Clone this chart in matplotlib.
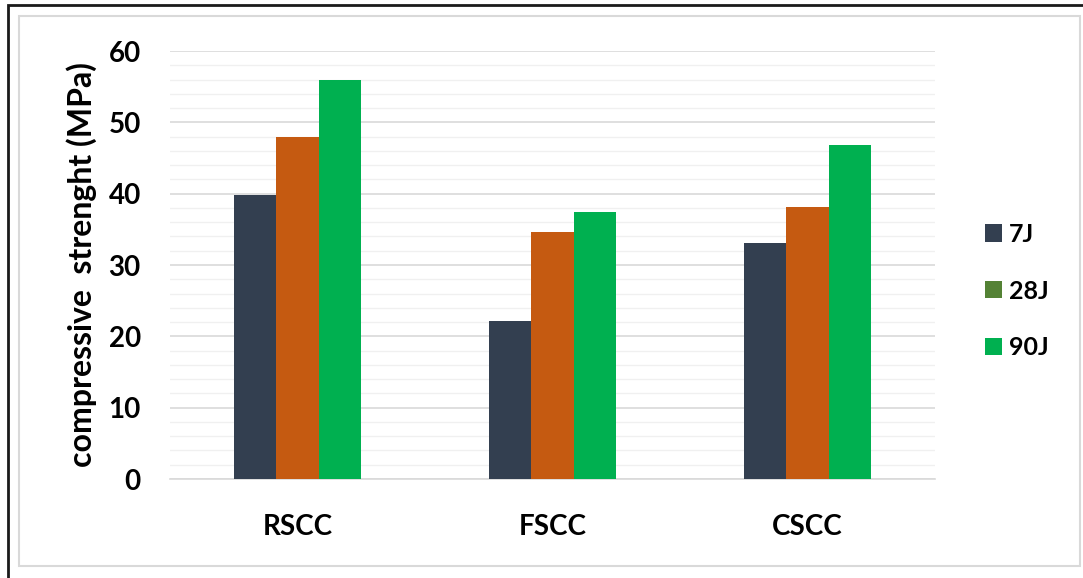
import numpy as np
import matplotlib.pyplot as plt
from matplotlib.patches import Rectangle, Patch

plt.rcParams["font.family"] = ["Lato", "DejaVu Sans"]
plt.rcParams["font.weight"] = "bold"

mixes = ["RSCC", "FSCC", "CSCC"]
ages = ["7J", "28J", "90J"]
strength_7j = [39.8, 22.2, 33.1]
strength_28j = [48.0, 34.6, 38.2]
strength_90j = [56.0, 37.5, 46.8]

bar_colors = ["#333F50", "#C55A11", "#00B050"]
legend_colors = ["#333F50", "#548235", "#00B050"]

fig = plt.figure(figsize=(10.83, 5.78), dpi=100)

# frame around the whole chart
fig.patches.append(Rectangle((8 / 1083, -0.05), 1.2, 1 - 5 / 578 + 0.05,
                             transform=fig.transFigure, fill=False,
                             edgecolor="#1a1a1a", linewidth=2.0))
fig.patches.append(Rectangle((19 / 1083, 1 - 566 / 578),
                             (1080 - 19) / 1083, (566 - 16) / 578,
                             transform=fig.transFigure, fill=False,
                             edgecolor="#D9D9D9", linewidth=1.5))

ax = fig.add_axes([170 / 1083, 1 - 479 / 578, 765 / 1083, 428 / 578])

x = np.arange(len(mixes))
width = 0.5 / 3
for i, vals in enumerate([strength_7j, strength_28j, strength_90j]):
    ax.bar(x + (i - 1) * width, vals, width, color=bar_colors[i], zorder=3)

ax.set_xlim(-0.5, 2.5)
ax.set_ylim(0, 60)
ax.set_yticks(np.arange(0, 61, 10))
ax.set_yticks(np.arange(0, 61, 2), minor=True)
ax.grid(axis="y", which="major", color="#D9D9D9", linewidth=1.2, zorder=0)
ax.grid(axis="y", which="minor", color="#F0F0F0", linewidth=1.0, zorder=0)
ax.set_axisbelow(True)

for side in ["top", "right", "left"]:
    ax.spines[side].set_visible(False)
ax.spines["bottom"].set_color("#D9D9D9")
ax.spines["bottom"].set_linewidth(1.2)
ax.tick_params(axis="both", which="both", length=0)
ax.tick_params(axis="y", labelsize=20, pad=21)
ax.tick_params(axis="x", labelsize=20, pad=25)
ax.set_xticks(x)
ax.set_xticklabels(mixes, fontweight="bold")
for lab in ax.get_yticklabels():
    lab.set_fontweight("bold")

ax.set_ylabel("compressive  strenght (MPa)", fontsize=23,
              fontweight="bold", labelpad=8)

handles = [Patch(facecolor=c, label=a) for c, a in zip(legend_colors, ages)]
fig.legend(handles=handles, loc="center left",
           bbox_to_anchor=(962 / 1083, 1 - 291 / 578), frameon=False,
           prop={"size": 18, "weight": "bold"}, handlelength=0.68,
           handleheight=0.68, handletextpad=0.3, labelspacing=1.35)

fig.savefig("out.png", dpi=100)
